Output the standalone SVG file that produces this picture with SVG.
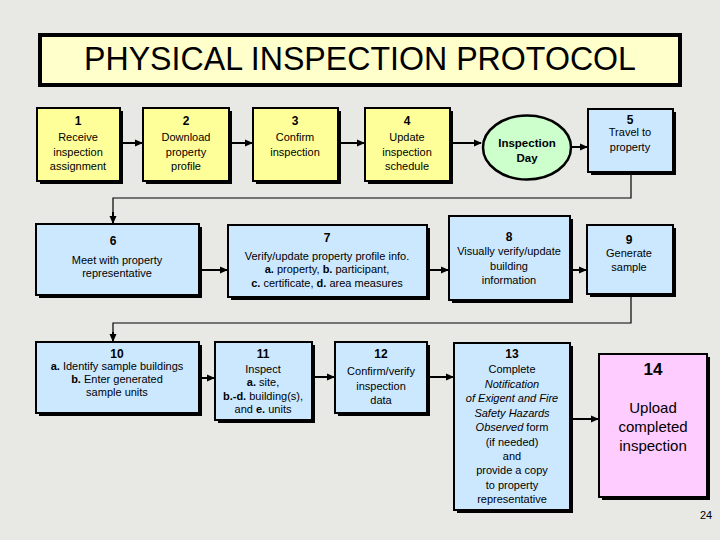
<svg xmlns="http://www.w3.org/2000/svg" width="720" height="540" viewBox="0 0 720 540">
<defs>
<marker id="ah" markerWidth="8" markerHeight="8" refX="7" refY="4" orient="auto" markerUnits="userSpaceOnUse">
<path d="M0,0.5 L8,4 L0,7.5 Z" fill="#000"/>
</marker>
<style>
text{font-family:"Liberation Sans",Arial,sans-serif;fill:#000;text-anchor:middle}
.t{font-size:11px}
.n{font-size:12px;font-weight:bold}
.b{font-weight:bold}
.i{font-style:italic}
.sh{fill:#000}
.y{fill:#ffff99;stroke:#000;stroke-width:2}
.bl{fill:#cce8ff;stroke:#000;stroke-width:2}
.g{fill:#ccffcc;stroke:#000;stroke-width:2.5}
.p{fill:#ffccff;stroke:#000;stroke-width:2}
.c{fill:none;stroke:#000;stroke-width:2}
.c1{fill:none;stroke:#000;stroke-width:1.2}
</style>
</defs>
<rect width="720" height="540" fill="#e8e8e5"/>
<g id="title">
<rect x="40" y="35" width="640" height="50" fill="#ffffcc" stroke="#000" stroke-width="4"/>
<text x="360" y="70" style="font-size:34px" textLength="552" lengthAdjust="spacingAndGlyphs">PHYSICAL INSPECTION PROTOCOL</text>
</g>
<g id="connectors">
<line class="c" x1="121" y1="143" x2="142" y2="143" marker-end="url(#ah)"/>
<line class="c" x1="230" y1="143" x2="252" y2="143" marker-end="url(#ah)"/>
<line class="c" x1="339" y1="143" x2="364" y2="143" marker-end="url(#ah)"/>
<line class="c" x1="451" y1="143" x2="481" y2="143" marker-end="url(#ah)"/>
<line class="c" x1="572" y1="147" x2="587" y2="147" marker-end="url(#ah)"/>
<polyline class="c1" points="631,173 631,198 113,198 113,214"/>
<line class="c" x1="113" y1="212" x2="113" y2="223" marker-end="url(#ah)"/>
<line class="c" x1="200" y1="270" x2="227" y2="270" marker-end="url(#ah)"/>
<line class="c" x1="428" y1="270" x2="448" y2="270" marker-end="url(#ah)"/>
<line class="c" x1="571" y1="270" x2="586" y2="270" marker-end="url(#ah)"/>
<polyline class="c1" points="631,295 631,323 113,323 113,334"/>
<line class="c" x1="113" y1="332" x2="113" y2="341" marker-end="url(#ah)"/>
<line class="c" x1="200" y1="378" x2="214" y2="378" marker-end="url(#ah)"/>
<line class="c" x1="313" y1="377" x2="334" y2="377" marker-end="url(#ah)"/>
<line class="c" x1="428" y1="377" x2="453" y2="377" marker-end="url(#ah)"/>
<line class="c" x1="571" y1="419" x2="598" y2="419" marker-end="url(#ah)"/>
</g>
<g id="n1">
<rect class="sh" x="40" y="111" width="83" height="73"/>
<rect class="y" x="37" y="108" width="83" height="73"/>
<text class="n" x="78" y="125">1</text>
<text class="t" x="78" y="141">Receive</text>
<text class="t" x="78" y="156">inspection</text>
<text class="t" x="78" y="170">assignment</text>
</g>
<g id="n2">
<rect class="sh" x="146" y="111" width="86" height="73"/>
<rect class="y" x="143" y="108" width="86" height="73"/>
<text class="n" x="186" y="125">2</text>
<text class="t" x="186" y="141">Download</text>
<text class="t" x="186" y="156">property</text>
<text class="t" x="186" y="170">profile</text>
</g>
<g id="n3">
<rect class="sh" x="256" y="111" width="85" height="73"/>
<rect class="y" x="253" y="108" width="85" height="73"/>
<text class="n" x="295" y="125">3</text>
<text class="t" x="295" y="141">Confirm</text>
<text class="t" x="295" y="156">inspection</text>
</g>
<g id="n4">
<rect class="sh" x="368" y="111" width="85" height="73"/>
<rect class="y" x="365" y="108" width="85" height="73"/>
<text class="n" x="407" y="125">4</text>
<text class="t" x="407" y="141">Update</text>
<text class="t" x="407" y="156">inspection</text>
<text class="t" x="407" y="170">schedule</text>
</g>
<g id="inspday">
<ellipse cx="527" cy="147.5" rx="44" ry="32" class="g"/>
<text class="b" x="527" y="147" style="font-size:11.5px">Inspection</text>
<text class="b" x="527" y="162" style="font-size:11.5px">Day</text>
</g>
<g id="n5">
<rect class="sh" x="591" y="112" width="85" height="63"/>
<rect class="bl" x="588" y="109" width="85" height="63"/>
<text class="n" x="630" y="124">5</text>
<text class="t" x="630" y="136">Travel to</text>
<text class="t" x="630" y="151">property</text>
</g>
<g id="n6">
<rect class="sh" x="39" y="227" width="163" height="71"/>
<rect class="bl" x="36" y="224" width="163" height="71"/>
<text class="n" x="113" y="245">6</text>
<text class="t" x="117" y="264">Meet with property</text>
<text class="t" x="117" y="277">representative</text>
</g>
<g id="n7">
<rect class="sh" x="231" y="228" width="199" height="72"/>
<rect class="bl" x="228" y="225" width="199" height="72"/>
<text class="n" x="327" y="242">7</text>
<text class="t" x="327" y="260">Verify/update property profile info.</text>
<text class="t" x="327" y="273"><tspan class="b">a.</tspan> property, <tspan class="b">b.</tspan> participant,</text>
<text class="t" x="327" y="287"><tspan class="b">c.</tspan> certificate, <tspan class="b">d.</tspan> area measures</text>
</g>
<g id="n8">
<rect class="sh" x="452" y="219" width="121" height="84"/>
<rect class="bl" x="449" y="216" width="121" height="84"/>
<text class="n" x="509" y="241">8</text>
<text class="t" x="509" y="255">Visually verify/update</text>
<text class="t" x="509" y="270">building</text>
<text class="t" x="509" y="284">information</text>
</g>
<g id="n9">
<rect class="sh" x="590" y="228" width="86" height="69"/>
<rect class="bl" x="587" y="225" width="86" height="69"/>
<text class="n" x="629" y="244">9</text>
<text class="t" x="629" y="257">Generate</text>
<text class="t" x="629" y="271">sample</text>
</g>
<g id="n10">
<rect class="sh" x="39" y="345" width="163" height="71"/>
<rect class="bl" x="36" y="342" width="163" height="71"/>
<text class="n" x="117" y="358">10</text>
<text class="t" x="117" y="370"><tspan class="b">a.</tspan> Identify sample buildings</text>
<text class="t" x="117" y="383"><tspan class="b">b.</tspan> Enter generated</text>
<text class="t" x="117" y="396">sample units</text>
</g>
<g id="n11">
<rect class="sh" x="218" y="345" width="97" height="78"/>
<rect class="bl" x="215" y="342" width="97" height="78"/>
<text class="n" x="263" y="358">11</text>
<text class="t" x="263" y="373">Inspect</text>
<text class="t" x="263" y="386"><tspan class="b">a.</tspan> site,</text>
<text class="t" x="263" y="400"><tspan class="b">b.-d.</tspan> building(s),</text>
<text class="t" x="263" y="413">and <tspan class="b">e.</tspan> units</text>
</g>
<g id="n12">
<rect class="sh" x="338" y="345" width="92" height="71"/>
<rect class="bl" x="335" y="342" width="92" height="71"/>
<text class="n" x="381" y="358">12</text>
<text class="t" x="381" y="375">Confirm/verify</text>
<text class="t" x="381" y="390">inspection</text>
<text class="t" x="381" y="404">data</text>
</g>
<g id="n13">
<rect class="sh" x="457" y="346" width="116" height="167"/>
<rect class="bl" x="454" y="343" width="116" height="167"/>
<text class="n" x="512" y="358">13</text>
<text class="t" x="512" y="373">Complete</text>
<text class="t i" x="512" y="388">Notification</text>
<text class="t i" x="512" y="402">of Exigent and Fire</text>
<text class="t i" x="512" y="417">Safety Hazards</text>
<text class="t" x="512" y="431"><tspan class="i">Observed</tspan> form</text>
<text class="t" x="512" y="446">(if needed)</text>
<text class="t" x="512" y="460">and</text>
<text class="t" x="512" y="474">provide a copy</text>
<text class="t" x="512" y="489">to property</text>
<text class="t" x="512" y="503">representative</text>
</g>
<g id="n14">
<rect class="sh" x="602" y="357" width="108" height="143"/>
<rect class="p" x="599" y="354" width="108" height="143"/>
<text x="653" y="375" style="font-size:17px;font-weight:bold">14</text>
<text x="653" y="413" style="font-size:15px">Upload</text>
<text x="653" y="432" style="font-size:15px">completed</text>
<text x="653" y="451" style="font-size:15px">inspection</text>
</g>
<text x="706" y="519" style="font-size:11px">24</text>
</svg>
